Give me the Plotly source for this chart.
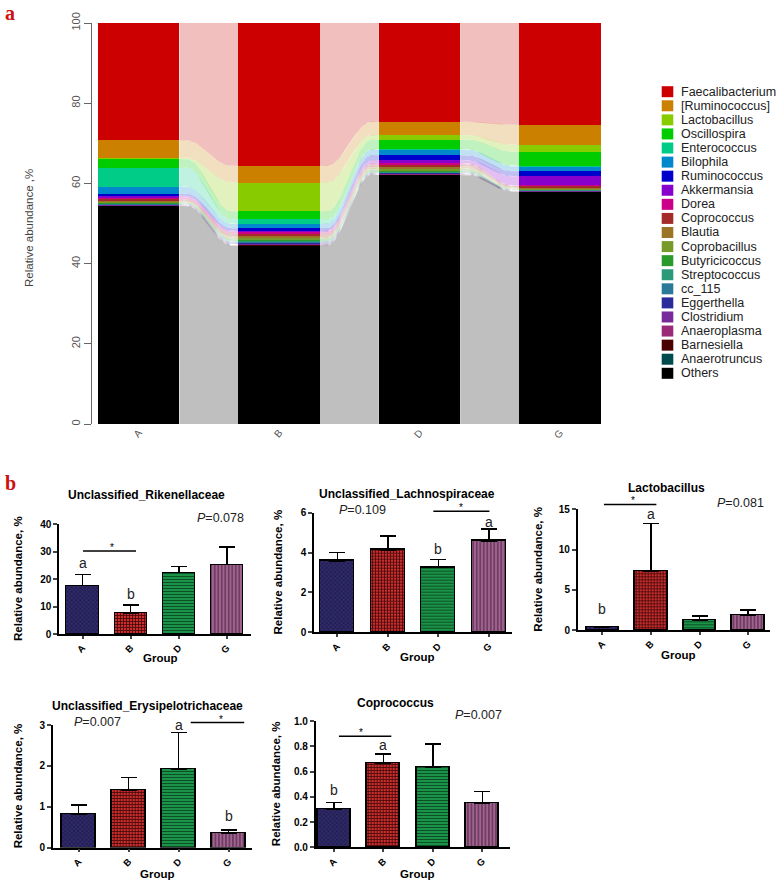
import numpy as np
import plotly.graph_objects as go

W, H = 778, 880

groups = ["A", "B", "D", "G"]

# ---- panel a: genus composition (top of stack first) ----
genera = ["Faecalibacterium", "[Ruminococcus]", "Lactobacillus", "Oscillospira",
          "Enterococcus", "Bilophila", "Ruminococcus", "Akkermansia", "Dorea",
          "Coprococcus", "Blautia", "Coprobacillus", "Butyricicoccus",
          "Streptococcus", "cc_115", "Eggerthella", "Clostridium",
          "Anaeroplasma", "Barnesiella", "Anaerotruncus", "Others"]
genus_colors = ["#cc0000", "#cc8000", "#88cc00", "#00cc00", "#00cc88", "#0088cc",
                "#0000cc", "#8800cc", "#cc0088", "#a52a2a", "#9b7428", "#789a2a",
                "#2a9a2a", "#2a9a78", "#2a789a", "#2a2a9a", "#782a9a", "#9a2a78",
                "#4b0000", "#004b4b", "#000000"]

abund_A = [29.3, 4.3, 0.3, 2.2, 4.7, 1.8, 0.5, 0.3, 0.6, 0.3, 0.3, 0.2, 0.2,
           0.1, 0.1, 0.1, 0.1, 0.1, 0.05, 0.05, 54.4]
abund_B = [35.6, 4.2, 7.2, 2.0, 1.1, 1.1, 0.6, 0.3, 0.4, 0.7, 0.4, 0.3, 0.4,
           0.3, 0.2, 0.2, 0.2, 0.1, 0.1, 0.1, 44.5]
abund_D = [24.6, 3.3, 1.2, 2.4, 0.1, 1.4, 1.2, 0.8, 0.2, 0.6, 0.5, 0.4, 0.4,
           0.2, 0.1, 0.1, 0.1, 0.1, 0.1, 0.1, 62.1]
abund_G = [25.4, 5.0, 1.7, 3.5, 0.1, 1.3, 1.2, 2.3, 0.1, 0.35, 0.25, 0.2, 0.2,
           0.1, 0.1, 0.05, 0.05, 0.05, 0.05, 0.05, 57.95]

# ---- panel b: mean and SEM per group ----
rik_mean = [17.6, 7.7, 22.3, 25.2]
rik_sem = [4.1, 2.8, 2.2, 6.4]
lach_mean = [3.58, 4.13, 3.26, 4.58]
lach_sem = [0.42, 0.70, 0.40, 0.59]
lacto_mean = [0.30, 7.25, 1.16, 1.78]
lacto_sem = [0.15, 6.0, 0.58, 0.70]
ery_mean = [0.83, 1.41, 1.93, 0.35]
ery_sem = [0.21, 0.31, 0.89, 0.08]
copro_mean = [0.30, 0.668, 0.636, 0.351]
copro_sem = [0.054, 0.072, 0.182, 0.089]


def px(x):
    return x / W


def py(y):
    return 1 - y / H


def rgba(hexcol, a):
    h = hexcol.lstrip("#")
    return f"rgba({int(h[0:2], 16)},{int(h[2:4], 16)},{int(h[4:6], 16)},{a})"


fig = go.Figure()
annotations = []
shapes = []

# ---- stacked bars with flows ----
data = np.array([abund_A, abund_B, abund_D, abund_G]).T  # genera x groups
xpos = np.arange(len(groups))
bw = 0.58

order = list(range(len(genera)))[::-1]  # bottom (Others) first
tops = np.cumsum(data[order], axis=0)
bots = tops - data[order]

t = np.linspace(0, 1, 40)
u = np.clip((t - 0.12) / 0.76, 0, 1)
ease = (1 - np.cos(np.pi * u)) / 2

for j, k in enumerate(order):
    fig.add_trace(go.Bar(x=xpos, y=data[k], width=bw, marker=dict(color=genus_colors[k], line=dict(width=0)),
                         name=genera[k], showlegend=False, hoverinfo="skip"))
    fx, fy = [], []
    for i in range(len(groups) - 1):
        xs = i + bw / 2 + t * (1 - bw)
        lo = bots[j, i] + (bots[j, i + 1] - bots[j, i]) * ease
        hi = tops[j, i] + (tops[j, i + 1] - tops[j, i]) * ease
        fx += list(xs) + list(xs[::-1]) + [None]
        fy += list(hi) + list(lo[::-1]) + [None]
    fig.add_trace(go.Scatter(x=fx, y=fy, mode="lines", fill="toself", line=dict(width=0),
                             fillcolor=rgba(genus_colors[k], 0.25), showlegend=False, hoverinfo="skip"))

fig.update_layout(
    barmode="stack",
    xaxis=dict(domain=[px(92), px(610)], range=[-0.333, 3.357], anchor="y", automargin=False,
               tickvals=list(xpos), ticktext=groups, tickangle=-50, showline=False,
               ticks="", showgrid=False, zeroline=False,
               tickfont=dict(family="Liberation Sans", size=10, color="#555")),
    yaxis=dict(domain=[py(424), py(23)], range=[0, 100], anchor="x", automargin=False,
               tickvals=[0, 20, 40, 60, 80, 100], tickangle=-90, showline=True,
               linecolor="#666", linewidth=1, ticks="outside", ticklen=7, tickcolor="#666",
               showgrid=False, zeroline=False,
               tickfont=dict(family="Liberation Sans", size=11, color="#555")),
)
annotations.append(dict(x=px(29), y=py(228), text="Relative abundance ,%", textangle=-90,
                        font=dict(family="Liberation Sans", size=11.5, color="#444")))

# manual legend
for k, name in enumerate(genera):
    yc = 91.7 + k * 14.08
    shapes.append(dict(type="rect", xref="paper", yref="paper", x0=px(661.7), x1=px(673.3),
                       y0=py(yc + 5.5), y1=py(yc - 5.5), fillcolor=genus_colors[k], line=dict(width=0)))
    annotations.append(dict(x=px(679), y=py(yc), text=name, xanchor="left",
                            font=dict(family="Liberation Sans", size=12.5, color="#222")))

# ---- panel b bar charts ----
bar_colors = ["#2f2a68", "#cc2e2e", "#1a9348", "#a0648e"]
pat_shapes = ["x", "+", "-", "|"]
pat_fg = ["#16123c", "#4a0c0c", "#0a4a22", "#4f2347"]
pat_size = [3, 3, 3, 3.5]
pat_solid = [0.3, 0.5, 0.3, 0.3]

panels = [
    dict(title="Unclassified_Rikenellaceae", mean=rik_mean, sem=rik_sem,
         xd=(59, 251), xr=(-0.49, 3.5), yd=(634, 524), yr=(0, 40), dtick=10, fmt="",
         ttl=(146, 495), ytl=18, grp=658, p=(220, 518, "0.078"),
         sig=(0.01, 1.11, 30.2, 0.62), letters=[(0, 25.8, "a"), (1, 14.6, "b")]),
    dict(title="Unclassified_Lachnospiraceae", mean=lach_mean, sem=lach_sem,
         xd=(314, 511.7), xr=(-0.46, 3.45), yd=(632.3, 512.7), yr=(0, 6), dtick=2, fmt="",
         ttl=(407, 494), ytl=277, grp=657, p=(362, 510, "0.109"),
         sig=(1.90, 3.01, 6.07, 2.45), letters=[(2, 4.18, "b"), (3, 5.55, "a")]),
    dict(title="Lactobacillus", mean=lacto_mean, sem=lacto_sem,
         xd=(577.7, 770), xr=(-0.51, 3.45), yd=(630, 509.3), yr=(0, 15), dtick=5, fmt="",
         ttl=(666, 488), ytl=538, grp=655, p=(740, 503, "0.081"),
         sig=(0.03, 1.11, 15.6, 0.62), letters=[(0, 2.6, "b"), (1, 14.4, "a")]),
    dict(title="Unclassified_Erysipelotrichaceae", mean=ery_mean, sem=ery_sem,
         xd=(52.7, 251.7), xr=(-0.52, 3.46), yd=(847.7, 725), yr=(0, 3), dtick=1, fmt="",
         ttl=(147, 706), ytl=18, grp=874, p=(97, 722, "0.007"),
         sig=(2.24, 3.31, 3.06, 2.85), letters=[(2, 3.0, "a"), (3, 0.78, "b")]),
    dict(title="Coprococcus", mean=copro_mean, sem=copro_sem,
         xd=(315.7, 510), xr=(-0.37, 3.56), yd=(847.3, 721), yr=(0, 1), dtick=0.2, fmt=".1f",
         ttl=(395, 703), ytl=276, grp=874, p=(478, 715, "0.007"),
         sig=(0.10, 1.16, 0.88, 0.55), letters=[(0, 0.45, "b"), (1, 0.81, "a")]),
]

bold = dict(family="Liberation Sans", weight="bold", color="black")

for n, pnl in enumerate(panels, start=2):
    xa, ya = f"x{n}", f"y{n}"
    # one trace per bar so every bar gets its own fill pattern
    for g in range(len(groups)):
        fig.add_trace(go.Bar(
            x=[xpos[g]], y=[pnl["mean"][g]], width=0.67, xaxis=xa, yaxis=ya, showlegend=False,
            marker=dict(color=bar_colors[g], line=dict(color="black", width=1.5),
                        pattern=dict(shape=pat_shapes[g], fgcolor=pat_fg[g], bgcolor=bar_colors[g],
                                     size=pat_size[g], solidity=pat_solid[g], fillmode="replace",
                                     fgopacity=1)),
            error_y=dict(type="data", symmetric=False, array=[pnl["sem"][g]], arrayminus=[0],
                         color="black", thickness=1.5, width=8),
        ))
    fig.layout[f"xaxis{n}"] = dict(
        domain=[px(pnl["xd"][0]), px(pnl["xd"][1])], range=list(pnl["xr"]), anchor=ya, automargin=False,
        tickvals=list(xpos), ticktext=groups, tickangle=-45, showline=True, linecolor="black",
        linewidth=1.5, ticks="outside", ticklen=3, tickwidth=1.5, showgrid=False, zeroline=False,
        tickfont=dict(size=9.5, **bold))
    fig.layout[f"yaxis{n}"] = dict(
        domain=[py(pnl["yd"][0]), py(pnl["yd"][1])], range=list(pnl["yr"]), anchor=xa, automargin=False,
        dtick=pnl["dtick"], tick0=0, tickformat=pnl["fmt"], showline=True, linecolor="black",
        linewidth=1.5, ticks="outside", ticklen=4, tickwidth=1.5, showgrid=False, zeroline=False,
        tickfont=dict(size=10, **bold))

    # map data coords of this panel to paper coords (for shapes drawn outside the range)
    (xd0, xd1), (xr0, xr1) = pnl["xd"], pnl["xr"]
    (yd0, yd1), (yr0, yr1) = pnl["yd"], pnl["yr"]

    def dx(v):
        return px(xd0 + (v - xr0) / (xr1 - xr0) * (xd1 - xd0))

    def dy(v):
        return py(yd0 + (v - yr0) / (yr1 - yr0) * (yd1 - yd0))

    annotations.append(dict(x=px(pnl["ttl"][0]), y=py(pnl["ttl"][1]), text=pnl["title"],
                            font=dict(size=12, **bold)))
    ymid = (pnl["yd"][0] + pnl["yd"][1]) / 2
    annotations.append(dict(x=px(pnl["ytl"]), y=py(ymid), text="Relative abundance, %", textangle=-90,
                            font=dict(size=11.5, **bold)))
    xmid = (pnl["xd"][0] + pnl["xd"][1]) / 2 + 5
    annotations.append(dict(x=px(xmid), y=py(pnl["grp"]), text="Group", font=dict(size=11.5, **bold)))
    annotations.append(dict(x=px(pnl["p"][0]), y=py(pnl["p"][1]), text=f"<i>P</i>={pnl['p'][2]}",
                            font=dict(family="Liberation Sans", size=12.5, color="#222")))
    x0, x1, ys, xs = pnl["sig"]
    shapes.append(dict(type="line", xref="paper", yref="paper", x0=dx(x0), x1=dx(x1), y0=dy(ys), y1=dy(ys),
                       line=dict(color="black", width=1.5)))
    annotations.append(dict(x=dx(xs), y=dy(ys), text="*", yanchor="bottom", yshift=-4,
                            font=dict(family="Liberation Sans", size=10, color="black")))
    for gx, gy, lt in pnl["letters"]:
        annotations.append(dict(x=gx, y=gy, xref=xa, yref=ya, text=lt,
                                font=dict(family="Liberation Sans", size=14, color="#222")))

# panel labels
for lbl, yy in (("a", 13), ("b", 483)):
    annotations.append(dict(x=px(3), y=py(yy), text=lbl, xanchor="left",
                            font=dict(family="Liberation Serif", size=20, weight="bold", color="#cc1111")))

for a in annotations:
    a.setdefault("xref", "paper")
    a.setdefault("yref", "paper")
    a.setdefault("xanchor", "center")
    a.setdefault("yanchor", "middle")
    a.setdefault("showarrow", False)

fig.update_layout(width=W, height=H, margin=dict(l=0, r=0, t=0, b=0, autoexpand=False), showlegend=False,
                  plot_bgcolor="white", paper_bgcolor="white", bargap=0,
                  annotations=annotations, shapes=shapes)

fig.write_html("out.html", config={"displayModeBar": False},
               post_script="document.body.style.margin='0px';")
